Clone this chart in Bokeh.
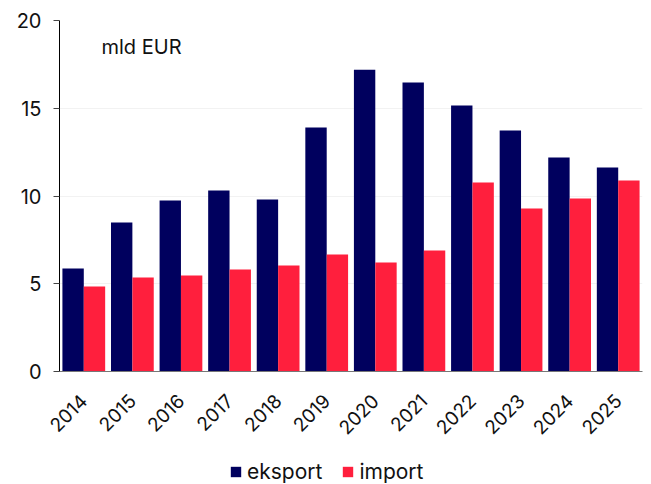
from bokeh.plotting import figure
from bokeh.layouts import column
from bokeh.models import ColumnDataSource, FactorRange, Legend, LegendItem, Label, Range1d, FixedTicker
from bokeh.transform import dodge
from bokeh.embed import file_html
from bokeh.resources import INLINE

years = ["2014", "2015", "2016", "2017", "2018", "2019", "2020", "2021", "2022", "2023", "2024", "2025"]
eksport = [5.87, 8.49, 9.74, 10.31, 9.80, 13.90, 17.20, 16.47, 15.16, 13.73, 12.19, 11.62]
import_ = [4.84, 5.36, 5.47, 5.81, 6.04, 6.67, 6.21, 6.90, 10.77, 9.29, 9.86, 10.88]
y_ticks = [0, 5, 10, 15, 20]
series_names = ["eksport", "import"]

NAVY = "#00005E"
RED = "#FF1F3D"
FONT = "Inter"
TXT = "#111111"

src = ColumnDataSource(dict(years=years, eksport=eksport, imp=import_))

p = figure(width=651, height=458, x_range=FactorRange(*years, range_padding=0),
           y_range=Range1d(0, 20), output_backend="svg", toolbar_location=None,
           min_border_left=59, min_border_right=9, min_border_top=20,
           min_border_bottom=87)

r1 = p.vbar(x=dodge("years", -0.22, range=p.x_range), top="eksport", width=0.44,
            source=src, fill_color=NAVY, line_color=None)
r2 = p.vbar(x=dodge("years", 0.22, range=p.x_range), top="imp", width=0.44,
            source=src, fill_color=RED, line_color=None)

p.outline_line_color = None
p.xgrid.grid_line_color = None
p.ygrid.grid_line_color = "#F2F2F2"
p.ygrid.grid_line_width = 1

p.yaxis.ticker = FixedTicker(ticks=y_ticks)
p.yaxis.axis_line_color = "#000000"
p.yaxis.major_tick_line_color = "#444444"
p.yaxis.major_tick_out = 6
p.yaxis.major_tick_in = 0
p.yaxis.minor_tick_line_color = None
p.yaxis.major_label_text_font = FONT
p.yaxis.major_label_text_font_size = "20px"
p.yaxis.major_label_text_color = TXT
p.yaxis.major_label_standoff = 12

p.xaxis.axis_line_color = "#777777"
p.xaxis.major_tick_line_color = None
p.xaxis.minor_tick_line_color = None
p.xaxis.major_label_orientation = 0.785
p.xaxis.major_label_text_font = FONT
p.xaxis.major_label_text_font_size = "19px"
p.xaxis.major_label_text_color = TXT
p.xaxis.major_label_standoff = 20

p.add_layout(Label(x=42, y=325, x_units="screen", y_units="screen", text="mld EUR",
                   text_font=FONT, text_font_size="20px", text_color=TXT,
                   text_baseline="middle"))

# legend row
lg = figure(width=651, height=26, x_range=Range1d(0, 1), y_range=Range1d(0, 1),
            output_backend="svg", toolbar_location=None,
            min_border_left=0, min_border_right=0, min_border_top=0, min_border_bottom=0)
lg.axis.visible = False
lg.grid.visible = False
lg.outline_line_color = None
d1 = lg.vbar(x=[-10], top=[-10], width=0.1, fill_color=NAVY, line_color=None)
d2 = lg.vbar(x=[-10], top=[-10], width=0.1, fill_color=RED, line_color=None)
legend = Legend(items=[LegendItem(label=series_names[0], renderers=[d1]),
                       LegendItem(label=series_names[1], renderers=[d2])],
                orientation="horizontal", location=(170, 0),
                label_text_font=FONT, label_text_font_size="21px",
                label_text_color=TXT, glyph_width=13, glyph_height=13,
                spacing=19, label_standoff=5, border_line_color=None,
                background_fill_alpha=0, margin=0, padding=2)
lg.add_layout(legend, "center")

open("out.html", "w").write(file_html(column(p, lg, spacing=0), INLINE))
